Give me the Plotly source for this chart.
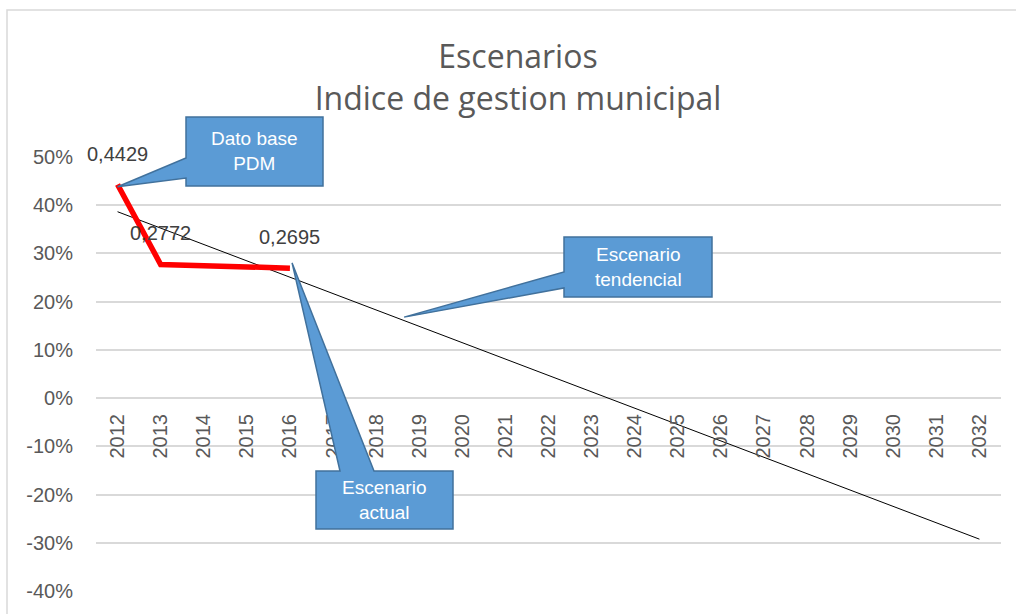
import plotly.graph_objects as go
import numpy as np

# ---- data ----
years = list(range(2012, 2033))
actual_years = [2012, 2013, 2016]
actual_values = [0.4429, 0.2772, 0.2695]
trend_years = [2012, 2032]
trend_values = [0.3865, -0.2925]
y_tickvals = [0.5, 0.4, 0.3, 0.2, 0.1, 0.0, -0.1, -0.2, -0.3, -0.4]
y_ticktext = ["50%", "40%", "30%", "20%", "10%", "0%", "-10%", "-20%", "-30%", "-40%"]
x_ticktext = [str(y) for y in years]
title_lines = ["Escenarios", "Indice de gestion municipal"]
callout_texts = ["Dato base<br>PDM", "Escenario<br>tendencial", "Escenario<br>actual"]

# ---- layout geometry ----
W, H = 1016, 614
ML, MR, MT, MB = 96, 15, 157, 23
PW, PH = W - ML - MR, H - MT - MB
XMIN, XMAX = years[0] - 0.5, years[-1] + 0.5
YMIN, YMAX = -0.4, 0.5

def px2paper_x(p):
    return (p - ML) / PW

def px2paper_y(p):
    return (H - MB - p) / PH

def data2paper_x(x):
    return (x - XMIN) / (XMAX - XMIN)

def data2paper_y(y):
    return (y - YMIN) / (YMAX - YMIN)

GRID = "#D9D9D9"
TXT = "#595959"
BLUE = "#5B9BD5"
BLUE_EDGE = "#41719C"
FONT = "Liberation Sans, Arial, sans-serif"

fig = go.Figure()

fig.add_trace(go.Scatter(
    x=trend_years, y=trend_values, mode="lines",
    line=dict(color="black", width=1), hoverinfo="skip", showlegend=False))

fig.add_trace(go.Scatter(
    x=actual_years, y=actual_values, mode="lines",
    line=dict(color="#FF0000", width=5.5), showlegend=False))

# data labels
for xv, yv in zip(actual_years, actual_values):
    fig.add_annotation(x=xv, y=yv, text=f"{yv:.4f}".replace(".", ","),
                       showarrow=False, yshift=31, xref="x", yref="y",
                       xanchor="center", yanchor="middle",
                       font=dict(family=FONT, size=20, color="#404040"))

shapes = []
# chart frame
shapes.append(dict(type="rect", xref="paper", yref="paper",
                   x0=px2paper_x(7), x1=px2paper_x(1030),
                   y0=px2paper_y(630), y1=px2paper_y(10),
                   line=dict(color=GRID, width=1.5), fillcolor="rgba(0,0,0,0)", layer="below"))

def callout(box_px, wedge_px, tip_paper, side, text):
    L, T, R, B = box_px
    Lp, Rp = px2paper_x(L), px2paper_x(R)
    Tp, Bp = px2paper_y(T), px2paper_y(B)
    tx, ty = tip_paper
    if side == "left":
        w1, w2 = px2paper_y(wedge_px[0]), px2paper_y(wedge_px[1])
        path = (f"M{Lp},{Tp} L{Rp},{Tp} L{Rp},{Bp} L{Lp},{Bp} L{Lp},{w2} "
                f"L{tx},{ty} L{Lp},{w1} Z")
    else:  # top
        w1, w2 = px2paper_x(wedge_px[0]), px2paper_x(wedge_px[1])
        path = (f"M{Lp},{Tp} L{w1},{Tp} L{tx},{ty} L{w2},{Tp} L{Rp},{Tp} "
                f"L{Rp},{Bp} L{Lp},{Bp} Z")
    shapes.append(dict(type="path", xref="paper", yref="paper", path=path,
                       fillcolor=BLUE, line=dict(color=BLUE_EDGE, width=1.5), layer="above"))
    fig.add_annotation(x=(Lp + Rp) / 2, y=(Tp + Bp) / 2, xref="paper", yref="paper",
                       xanchor="center", yanchor="middle",
                       text=text, showarrow=False, align="center",
                       font=dict(family=FONT, size=19, color="white"))

# Dato base PDM -> first actual point
callout((186, 117, 323, 186), (158, 178),
        (data2paper_x(actual_years[0]), data2paper_y(actual_values[0]) - 0.005),
        "left", callout_texts[0])
# Escenario tendencial -> trend line
tip_year = 2018.65
tip_val = float(np.interp(tip_year, trend_years, trend_values))
callout((564, 237, 712, 297), (272, 288),
        (data2paper_x(tip_year), data2paper_y(tip_val) + 0.008),
        "left", callout_texts[1])
# Escenario actual -> last actual point
callout((316, 471, 453, 529), (340, 374),
        (data2paper_x(actual_years[-1] + 0.05), data2paper_y(actual_values[-1]) + 0.012),
        "top", callout_texts[2])

fig.update_layout(
    width=W, height=H,
    margin=dict(l=ML, r=MR, t=MT, b=MB),
    paper_bgcolor="white", plot_bgcolor="white",
    shapes=shapes,
    title=dict(text="<br>".join(title_lines), x=518 / W, xanchor="center",
               y=1 - 68 / H, yanchor="middle", yref="container",
               font=dict(family="Liberation Sans Narrow, Open Sans, sans-serif", size=32, color=TXT)),
    xaxis=dict(range=[XMIN, XMAX], tickvals=years, ticktext=x_ticktext,
               tickangle=-90, showgrid=False, zeroline=False, showline=False,
               anchor="free", position=data2paper_y(0.0), ticks="",
               ticklabelstandoff=11,
               tickfont=dict(family=FONT, size=20, color=TXT)),
    yaxis=dict(range=[YMIN, YMAX], tickvals=y_tickvals, ticktext=y_ticktext,
               showgrid=True, gridcolor=GRID, gridwidth=1.5,
               zeroline=True, zerolinecolor=GRID, zerolinewidth=1.5,
               showline=False, ticks="", ticklabelstandoff=22,
               tickfont=dict(family=FONT, size=20, color=TXT)),
)

fig.write_html("out.html", config={"displayModeBar": False},
               post_script="document.body.style.margin='0';document.body.style.padding='0';")
